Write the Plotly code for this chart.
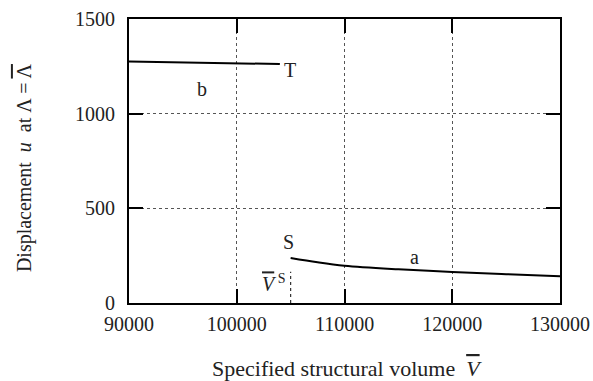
import plotly.graph_objects as go

# Curve a (stable branch, starting at S)
a_x = [105000, 107500, 110000, 115000, 120000, 125000, 130000]
a_y = [238, 215, 197, 178, 164, 152, 141]
# Curve b (ending at T)
b_x = [90000, 95000, 100000, 104000]
b_y = [1276, 1271, 1266, 1262]
# Dashed marker line at specified volume V^S
vs_x = [105000, 105000]
vs_y = [0, 165]

x_ticks = [90000, 100000, 110000, 120000, 130000]
y_ticks = [0, 500, 1000, 1500]

FONT = "Liberation Serif, Times New Roman, serif"
fig = go.Figure()
line = dict(color="black", width=2)
fig.add_trace(go.Scatter(x=a_x, y=a_y, mode="lines", line=dict(color="black", width=2, shape="spline"), showlegend=False))
fig.add_trace(go.Scatter(x=b_x, y=b_y, mode="lines", line=line, showlegend=False))
fig.add_trace(go.Scatter(x=vs_x, y=vs_y, mode="lines", line=dict(color="#333", width=1.2, dash="3px,3px"), showlegend=False))

axis_common = dict(
    showline=True, linecolor="black", linewidth=2, mirror="ticks",
    ticks="inside", ticklen=14, tickwidth=2, tickcolor="black",
    showgrid=True, gridcolor="#555", gridwidth=1, griddash="dot",
    zeroline=False, automargin=False,
    tickfont=dict(family=FONT, size=20, color="#222"),
)
fig.update_xaxes(range=[90000, 130000], tickvals=x_ticks, ticktext=[str(v) for v in x_ticks],
                 ticklabelstandoff=2, **axis_common)
fig.update_yaxes(range=[0, 1500], tickvals=y_ticks, ticktext=[str(v) for v in y_ticks],
                 ticklabelstandoff=8, **axis_common)

OV = '<span style="text-decoration:overline">{}</span>'
ann_font = dict(family=FONT, size=20, color="#222")
annotations = [
    dict(x=104900, y=1231, text="T", showarrow=False, xanchor="center", yanchor="middle"),
    dict(x=96800, y=1130, text="b", showarrow=False),
    dict(x=104800, y=320, text="S", showarrow=False),
    dict(x=116500, y=245, text="a", showarrow=False),
    dict(x=104750, y=105, text="<i>" + OV.format("V") + "</i><sup> S</sup>", showarrow=False, xanchor="right"),
]
for a in annotations:
    a["font"] = ann_font
    a["xref"] = "x"
    a["yref"] = "y"
annotations.append(dict(x=0.506, y=-0.232, xref="paper", yref="paper", showarrow=False,
                        text="Specified structural volume  <i>" + OV.format("V") + "</i>",
                        font=dict(family=FONT, size=22, color="#222"),
                        xanchor="center", yanchor="middle"))
annotations.append(dict(x=-0.2436, y=0.475, xref="paper", yref="paper", showarrow=False, textangle=-90,
                        text="Displacement  <i>u</i>  at \u039b = " + OV.format("\u039b"), font=ann_font,
                        xanchor="center", yanchor="middle"))
fig.update_layout(
    width=593, height=381,
    margin=dict(l=129, r=33, t=19, b=78),
    plot_bgcolor="white", paper_bgcolor="white",
    annotations=annotations,
)
fig.write_html("out.html", config={"displayModeBar": False},
               post_script="document.body.style.margin='0';document.body.style.overflow='hidden';")
